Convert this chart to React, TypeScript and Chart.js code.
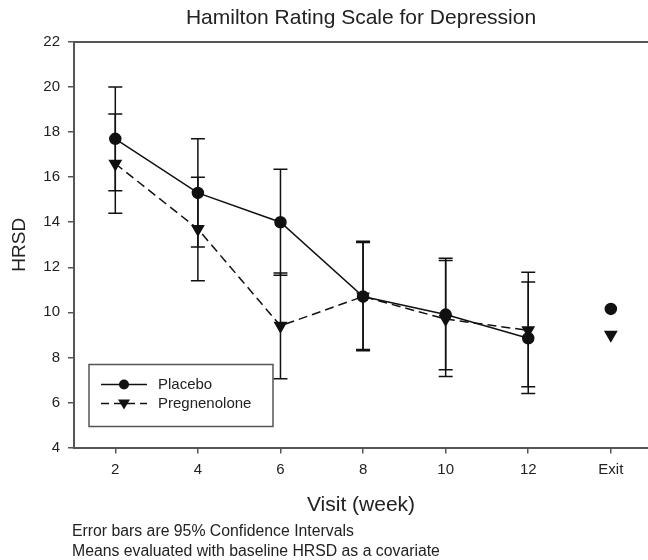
import React, { useEffect, useRef } from "react";
import { Chart, registerables } from "chart.js";

Chart.register(...registerables);

const FONT = "'Liberation Sans', Arial, Helvetica, sans-serif";

const visits = [2, 4, 6, 8, 10, 12, 14];
const visitLabels = ["2", "4", "6", "8", "10", "12", "Exit"];

const placeboMean = [17.7, 15.3, 14.0, 10.7, 9.9, 8.85, 10.15];
const placeboLower = [15.4, 12.9, 11.65, 8.3, 7.45, 6.4, null];
const placeboUpper = [20.0, 17.7, 16.35, 13.15, 12.4, 11.35, null];

const pregMean = [16.6, 13.7, 9.4, 10.7, 9.7, 9.2, 9.0];
const pregLower = [14.4, 11.4, 7.05, 8.35, 7.15, 6.7, null];
const pregUpper = [18.8, 16.0, 11.75, 13.1, 12.3, 11.78, null];

const seriesNames = ["Placebo", "Pregnenolone"];
const footnotes = [
  "Error bars are 95% Confidence Intervals",
  "Means evaluated with baseline HRSD as a covariate",
];

const yTickMin = 4;
const yTickMax = 22;
const yStep = 2;

const errorBarsPlugin = {
  id: "errorBars",
  afterDatasetsDraw(chart: any) {
    const ctx = chart.ctx;
    const xs = chart.scales.x;
    const ys = chart.scales.y;
    const sets = [
      [placeboLower, placeboUpper],
      [pregLower, pregUpper],
    ];
    ctx.save();
    ctx.strokeStyle = "#111";
    ctx.lineWidth = 1.5;
    ctx.setLineDash([]);
    for (const [lo, hi] of sets) {
      for (let i = 0; i < visits.length; i++) {
        const l = lo[i];
        const h = hi[i];
        if (l == null || h == null) continue;
        const px = xs.getPixelForValue(visits[i]);
        const pl = ys.getPixelForValue(l);
        const ph = ys.getPixelForValue(h);
        ctx.beginPath();
        ctx.moveTo(px, pl);
        ctx.lineTo(px, ph);
        ctx.moveTo(px - 7, pl);
        ctx.lineTo(px + 7, pl);
        ctx.moveTo(px - 7, ph);
        ctx.lineTo(px + 7, ph);
        ctx.stroke();
      }
    }
    ctx.restore();
  },
};

const decorPlugin = {
  id: "decor",
  afterDraw(chart: any) {
    const ctx = chart.ctx;
    const a = chart.chartArea;
    ctx.save();
    // top frame line
    ctx.strokeStyle = "#555";
    ctx.lineWidth = 2;
    ctx.beginPath();
    ctx.moveTo(a.left, a.top);
    ctx.lineTo(chart.width, a.top);
    ctx.stroke();

    // legend box
    const lx = a.left + 15;
    const ly = a.bottom - 83;
    const lw = 184;
    const lh = 62;
    ctx.fillStyle = "#fff";
    ctx.fillRect(lx, ly, lw, lh);
    ctx.strokeStyle = "#555";
    ctx.lineWidth = 1.5;
    ctx.strokeRect(lx, ly, lw, lh);

    const rows = [ly + 20, ly + 39];
    ctx.strokeStyle = "#111";
    ctx.fillStyle = "#111";
    ctx.lineWidth = 1.5;
    ctx.setLineDash([]);
    ctx.beginPath();
    ctx.moveTo(lx + 12, rows[0]);
    ctx.lineTo(lx + 58, rows[0]);
    ctx.stroke();
    ctx.beginPath();
    ctx.arc(lx + 35, rows[0], 5, 0, Math.PI * 2);
    ctx.fill();
    ctx.setLineDash([8, 5]);
    ctx.beginPath();
    ctx.moveTo(lx + 12, rows[1]);
    ctx.lineTo(lx + 58, rows[1]);
    ctx.stroke();
    ctx.setLineDash([]);
    ctx.beginPath();
    ctx.moveTo(lx + 29, rows[1] - 4);
    ctx.lineTo(lx + 41, rows[1] - 4);
    ctx.lineTo(lx + 35, rows[1] + 6);
    ctx.closePath();
    ctx.fill();

    ctx.fillStyle = "#222";
    ctx.font = `15px ${FONT}`;
    ctx.textBaseline = "middle";
    ctx.textAlign = "left";
    ctx.fillText(seriesNames[0], lx + 69, rows[0]);
    ctx.fillText(seriesNames[1], lx + 69, rows[1]);

    ctx.font = `15.8px ${FONT}`;
    ctx.fillText(footnotes[0], 72, 532);
    ctx.fillText(footnotes[1], 72, 552);
    ctx.restore();
  },
};

export default function App() {
  const ref = useRef<HTMLCanvasElement | null>(null);

  useEffect(() => {
    if (!ref.current) return;
    Chart.defaults.font.family = FONT;
    const chart = new Chart(ref.current, {
      type: "line",
      data: {
        datasets: [
          {
            label: seriesNames[0],
            data: visits.map((x, i) => ({ x, y: placeboMean[i] })),
            borderColor: "#111",
            backgroundColor: "#111",
            borderWidth: 1.5,
            pointStyle: "circle",
            pointRadius: 5.5,
            pointBackgroundColor: "#111",
            pointBorderColor: "#111",
            tension: 0,
            segment: {
              borderColor: (c: any) => (c.p1DataIndex === 6 ? "rgba(0,0,0,0)" : undefined),
            },
          } as any,
          {
            label: seriesNames[1],
            data: visits.map((x, i) => ({ x, y: pregMean[i] })),
            borderColor: "#111",
            backgroundColor: "#111",
            borderWidth: 1.5,
            borderDash: [9, 5],
            pointStyle: "triangle",
            pointRotation: 180,
            pointRadius: 6.5,
            pointBackgroundColor: "#111",
            pointBorderColor: "#111",
            tension: 0,
            segment: {
              borderColor: (c: any) => (c.p1DataIndex === 6 ? "rgba(0,0,0,0)" : undefined),
            },
          } as any,
        ],
      },
      options: {
        animation: false,
        responsive: false,
        maintainAspectRatio: false,
        layout: { autoPadding: false, padding: { left: 0, right: 0, top: 0, bottom: 42 } } as any,
        plugins: {
          legend: { display: false },
          tooltip: { enabled: false },
          title: {
            display: true,
            text: "Hamilton Rating Scale for Depression",
            fullSize: false,
            color: "#222",
            font: { size: 21, weight: "normal" as any, family: FONT },
            padding: { top: 5.4, bottom: 11.4 },
          } as any,
        },
        scales: {
          x: {
            type: "linear",
            min: 1,
            max: 14.9,
            afterBuildTicks: (s: any) => {
              s.ticks = visits.map((v) => ({ value: v }));
            },
            afterFit: (s: any) => {
              s.height = 70.5;
              s.paddingRight = 0;
              s.paddingLeft = 0;
            },
            ticks: {
              color: "#222",
              font: { size: 15, family: FONT },
              padding: 7,
              maxRotation: 0,
              autoSkip: false,
              callback: (v: any) => {
                const i = visits.indexOf(Number(v));
                return i >= 0 ? visitLabels[i] : "";
              },
            },
            grid: {
              drawOnChartArea: false,
              drawTicks: true,
              tickLength: 6,
              color: "#555",
              lineWidth: 1.5,
            },
            border: { display: true, color: "#555", width: 2 },
            title: {
              display: true,
              text: "Visit (week)",
              color: "#222",
              font: { size: 21, family: FONT },
              padding: { top: 4, bottom: 0 },
            },
          },
          y: {
            type: "linear",
            min: yTickMin,
            max: yTickMax,
            afterFit: (s: any) => {
              s.width = 74;
            },
            ticks: {
              stepSize: yStep,
              color: "#222",
              font: { size: 15, family: FONT },
              padding: 8,
            },
            grid: {
              drawOnChartArea: false,
              drawTicks: true,
              tickLength: 6,
              color: "#555",
              lineWidth: 1.5,
            },
            border: { display: true, color: "#555", width: 2 },
            title: {
              display: true,
              text: "HRSD",
              color: "#222",
              font: { size: 19, family: FONT },
              padding: { top: 8, bottom: 0 },
            },
          },
        },
      },
      plugins: [errorBarsPlugin, decorPlugin],
    });
    return () => chart.destroy();
  }, []);

  return (
    <div
      style={{
        position: "fixed",
        left: 0,
        top: 0,
        width: 648,
        height: 560,
        overflow: "hidden",
        background: "#fff",
      }}
    >
      <canvas ref={ref} width={648} height={560} style={{ width: 648, height: 560, display: "block" }} />
    </div>
  );
}
